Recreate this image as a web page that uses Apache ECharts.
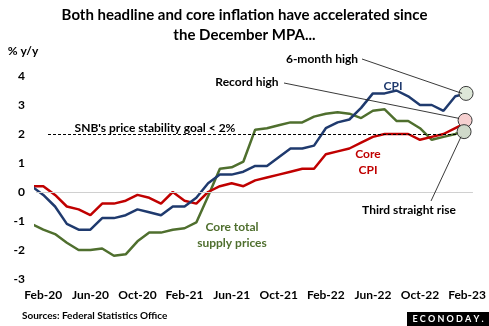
<!DOCTYPE html>
<html>
<head>
<meta charset="utf-8">
<script src="https://cdn.jsdelivr.net/npm/echarts@6/dist/echarts.min.js"></script>
<style>
  html, body { margin: 0; padding: 0; background: #fff; }
  #chart { width: 489px; height: 326px; }
</style>
</head>
<body>
<div id="chart"></div>
<script>
// Monthly Swiss inflation, % y/y, Jan-20 .. Feb-23
const months = [
  'Jan-20','Feb-20','Mar-20','Apr-20','May-20','Jun-20','Jul-20','Aug-20','Sep-20','Oct-20','Nov-20','Dec-20',
  'Jan-21','Feb-21','Mar-21','Apr-21','May-21','Jun-21','Jul-21','Aug-21','Sep-21','Oct-21','Nov-21','Dec-21',
  'Jan-22','Feb-22','Mar-22','Apr-22','May-22','Jun-22','Jul-22','Aug-22','Sep-22','Oct-22','Nov-22','Dec-22',
  'Jan-23','Feb-23'
];
const cpi = [
  0.2, -0.1, -0.5, -1.1, -1.3, -1.3, -0.9, -0.9, -0.8, -0.6, -0.7, -0.8,
  -0.5, -0.5, -0.2, 0.3, 0.6, 0.6, 0.7, 0.9, 0.9, 1.2, 1.5, 1.5,
  1.6, 2.2, 2.4, 2.5, 2.9, 3.4, 3.4, 3.5, 3.3, 3.0, 3.0, 2.8,
  3.3, 3.4
];
const coreCpi = [
  0.2, 0.2, -0.1, -0.5, -0.6, -0.8, -0.4, -0.4, -0.3, -0.1, -0.2, -0.4,
  0.0, -0.3, -0.4, 0.0, 0.2, 0.3, 0.2, 0.4, 0.5, 0.6, 0.7, 0.8,
  0.8, 1.3, 1.4, 1.5, 1.7, 1.9, 2.0, 2.0, 2.0, 1.8, 1.9, 2.0,
  2.2, 2.4
];
const coreSupply = [
  -1.1, -1.3, -1.45, -1.75, -2.0, -2.0, -1.95, -2.2, -2.15, -1.7, -1.4, -1.4,
  -1.3, -1.25, -1.05, -0.15, 0.8, 0.85, 1.05, 2.15, 2.2, 2.3, 2.4, 2.4,
  2.6, 2.7, 2.75, 2.7, 2.55, 2.8, 2.85, 2.45, 2.45, 2.2, 1.8, 1.9,
  2.0, 2.15
];
const tickMonths = [1, 5, 9, 13, 17, 21, 25, 29, 33, 37];
const goal = 2;

const FONT = 'Lato';
const BLUE = '#1f3a6e', RED = '#c00000', GREEN = '#4f6f2e';

const pairs = arr => arr.map((v, i) => [i, v]);
const last = arr => [arr.length - 1, arr[arr.length - 1]];

function ringPoint(arr, fill, offset) {
  return {
    symbol: 'circle',
    symbolSize: 14,
    silent: true,
    label: { show: false },
    itemStyle: { color: fill, borderColor: '#3a3a3a', borderWidth: 1 },
    data: [{ coord: last(arr), symbolOffset: offset }]
  };
}

const chart = echarts.init(document.getElementById('chart'), null, { renderer: 'canvas' });

const option = {
  backgroundColor: '#ffffff',
  animation: false,
  textStyle: { fontFamily: FONT },
  title: {
    text: 'Both headline and core inflation have accelerated since\nthe December MPA...',
    left: 'center',
    top: 0,
    textStyle: { fontFamily: FONT, fontSize: 15, fontWeight: 'bold', color: '#000', lineHeight: 20 }
  },
  grid: { left: 36, right: 15, top: 76, bottom: 47, containLabel: false },
  xAxis: {
    type: 'value',
    min: 0.38,
    max: 37.5,
    splitLine: { show: false },
    axisLine: { show: false },
    axisTick: { show: false },
    axisLabel: {
      customValues: tickMonths,
      formatter: v => months[Math.round(v)],
      fontFamily: FONT, fontSize: 12, fontWeight: 'bold', color: '#000',
      margin: 10
    }
  },
  yAxis: {
    type: 'value',
    min: -3,
    max: 4,
    interval: 1,
    splitLine: { show: false },
    axisLine: { show: false },
    axisTick: { show: false },
    axisLabel: { fontFamily: FONT, fontSize: 12, fontWeight: 'bold', color: '#000', margin: 11 }
  },
  series: [
    {
      name: 'Core total supply prices',
      type: 'line',
      data: pairs(coreSupply),
      symbol: 'none',
      lineStyle: { color: GREEN, width: 2.5 },
      z: 2,
      markLine: {
        silent: true,
        symbol: 'none',
        label: { show: false },
        data: [
          [{ coord: [0.38, 0], lineStyle: { color: '#d0d0d0', width: 1, type: 'solid' } }, { coord: [37.5, 0] }],
          [{ coord: [1.4, goal], lineStyle: { color: '#000', width: 1, type: [3, 2] } }, { coord: [37.3, goal] }]
        ]
      }
    },
    {
      name: 'Core CPI',
      type: 'line',
      data: pairs(coreCpi),
      symbol: 'none',
      lineStyle: { color: RED, width: 2.5 },
      z: 3
    },
    {
      name: 'CPI',
      type: 'line',
      data: pairs(cpi),
      symbol: 'none',
      lineStyle: { color: BLUE, width: 2.5 },
      z: 4
    },
    // highlight rings on the latest readings
    { type: 'line', data: [], markPoint: ringPoint(cpi, '#dde7d8', [-1, 0]), z: 6 },
    { type: 'line', data: [], markPoint: ringPoint(coreCpi, '#f6d0d0', [-2, -2]), z: 6 },
    { type: 'line', data: [], markPoint: ringPoint(coreSupply, '#d0d9ca', [-3, 2]), z: 6 }
  ]
};
chart.setOption(option);

// annotation texts and leader lines to the ringed points
const px = (arr, dx, dy) => {
  const p = chart.convertToPixel({ gridIndex: 0 }, last(arr));
  return [p[0] + dx, p[1] + dy];
};
const txt = (text, x, y, color, align) => ({
  type: 'text', x, y, z: 10,
  style: {
    text, fill: color, font: 'bold 12px ' + FONT,
    textAlign: align || 'center', textVerticalAlign: 'middle', lineHeight: 16
  }
});
const lead = (a, b) => ({
  type: 'line', z: 5, silent: true,
  shape: { x1: a[0], y1: a[1], x2: b[0], y2: b[1] },
  style: { stroke: '#222', lineWidth: 0.9 }
});

const pCpi = px(cpi, -5, 0);
const pCore = px(coreCpi, -8, -4);
const pSup = px(coreSupply, -6, 7);

chart.setOption({
  graphic: [
    txt('% y/y', 23, 51, '#000'),
    txt("SNB's price stability goal < 2%", 155, 128, '#000'),
    txt('6-month high', 322, 59, '#000'),
    txt('Record high', 247, 82, '#000'),
    txt('Third straight rise', 409, 210, '#000'),
    txt('CPI', 393, 86, BLUE),
    txt('Core', 368, 154, RED),
    txt('CPI', 368, 170, RED),
    txt('Core total', 232, 227, GREEN),
    txt('supply prices', 232, 243, GREEN),
    lead([362, 59], pCpi),
    lead([284, 83], pCore),
    lead([431, 201], pSup),
    {
      type: 'text', x: 22, y: 316, z: 10,
      style: { text: 'Sources: Federal Statistics Office', fill: '#000', font: 'bold 10px ' + FONT, textVerticalAlign: 'middle' }
    },
    {
      type: 'rect', z: 10,
      shape: { x: 407, y: 312, width: 82, height: 14 },
      style: { fill: '#000' }
    },
    {
      type: 'text', x: 448, y: 319.5, z: 11,
      style: { text: 'E C O N O D A Y .', fill: '#fff', font: 'bold 9px ' + FONT, textAlign: 'center', textVerticalAlign: 'middle' }
    }
  ]
});
</script>
</body>
</html>
